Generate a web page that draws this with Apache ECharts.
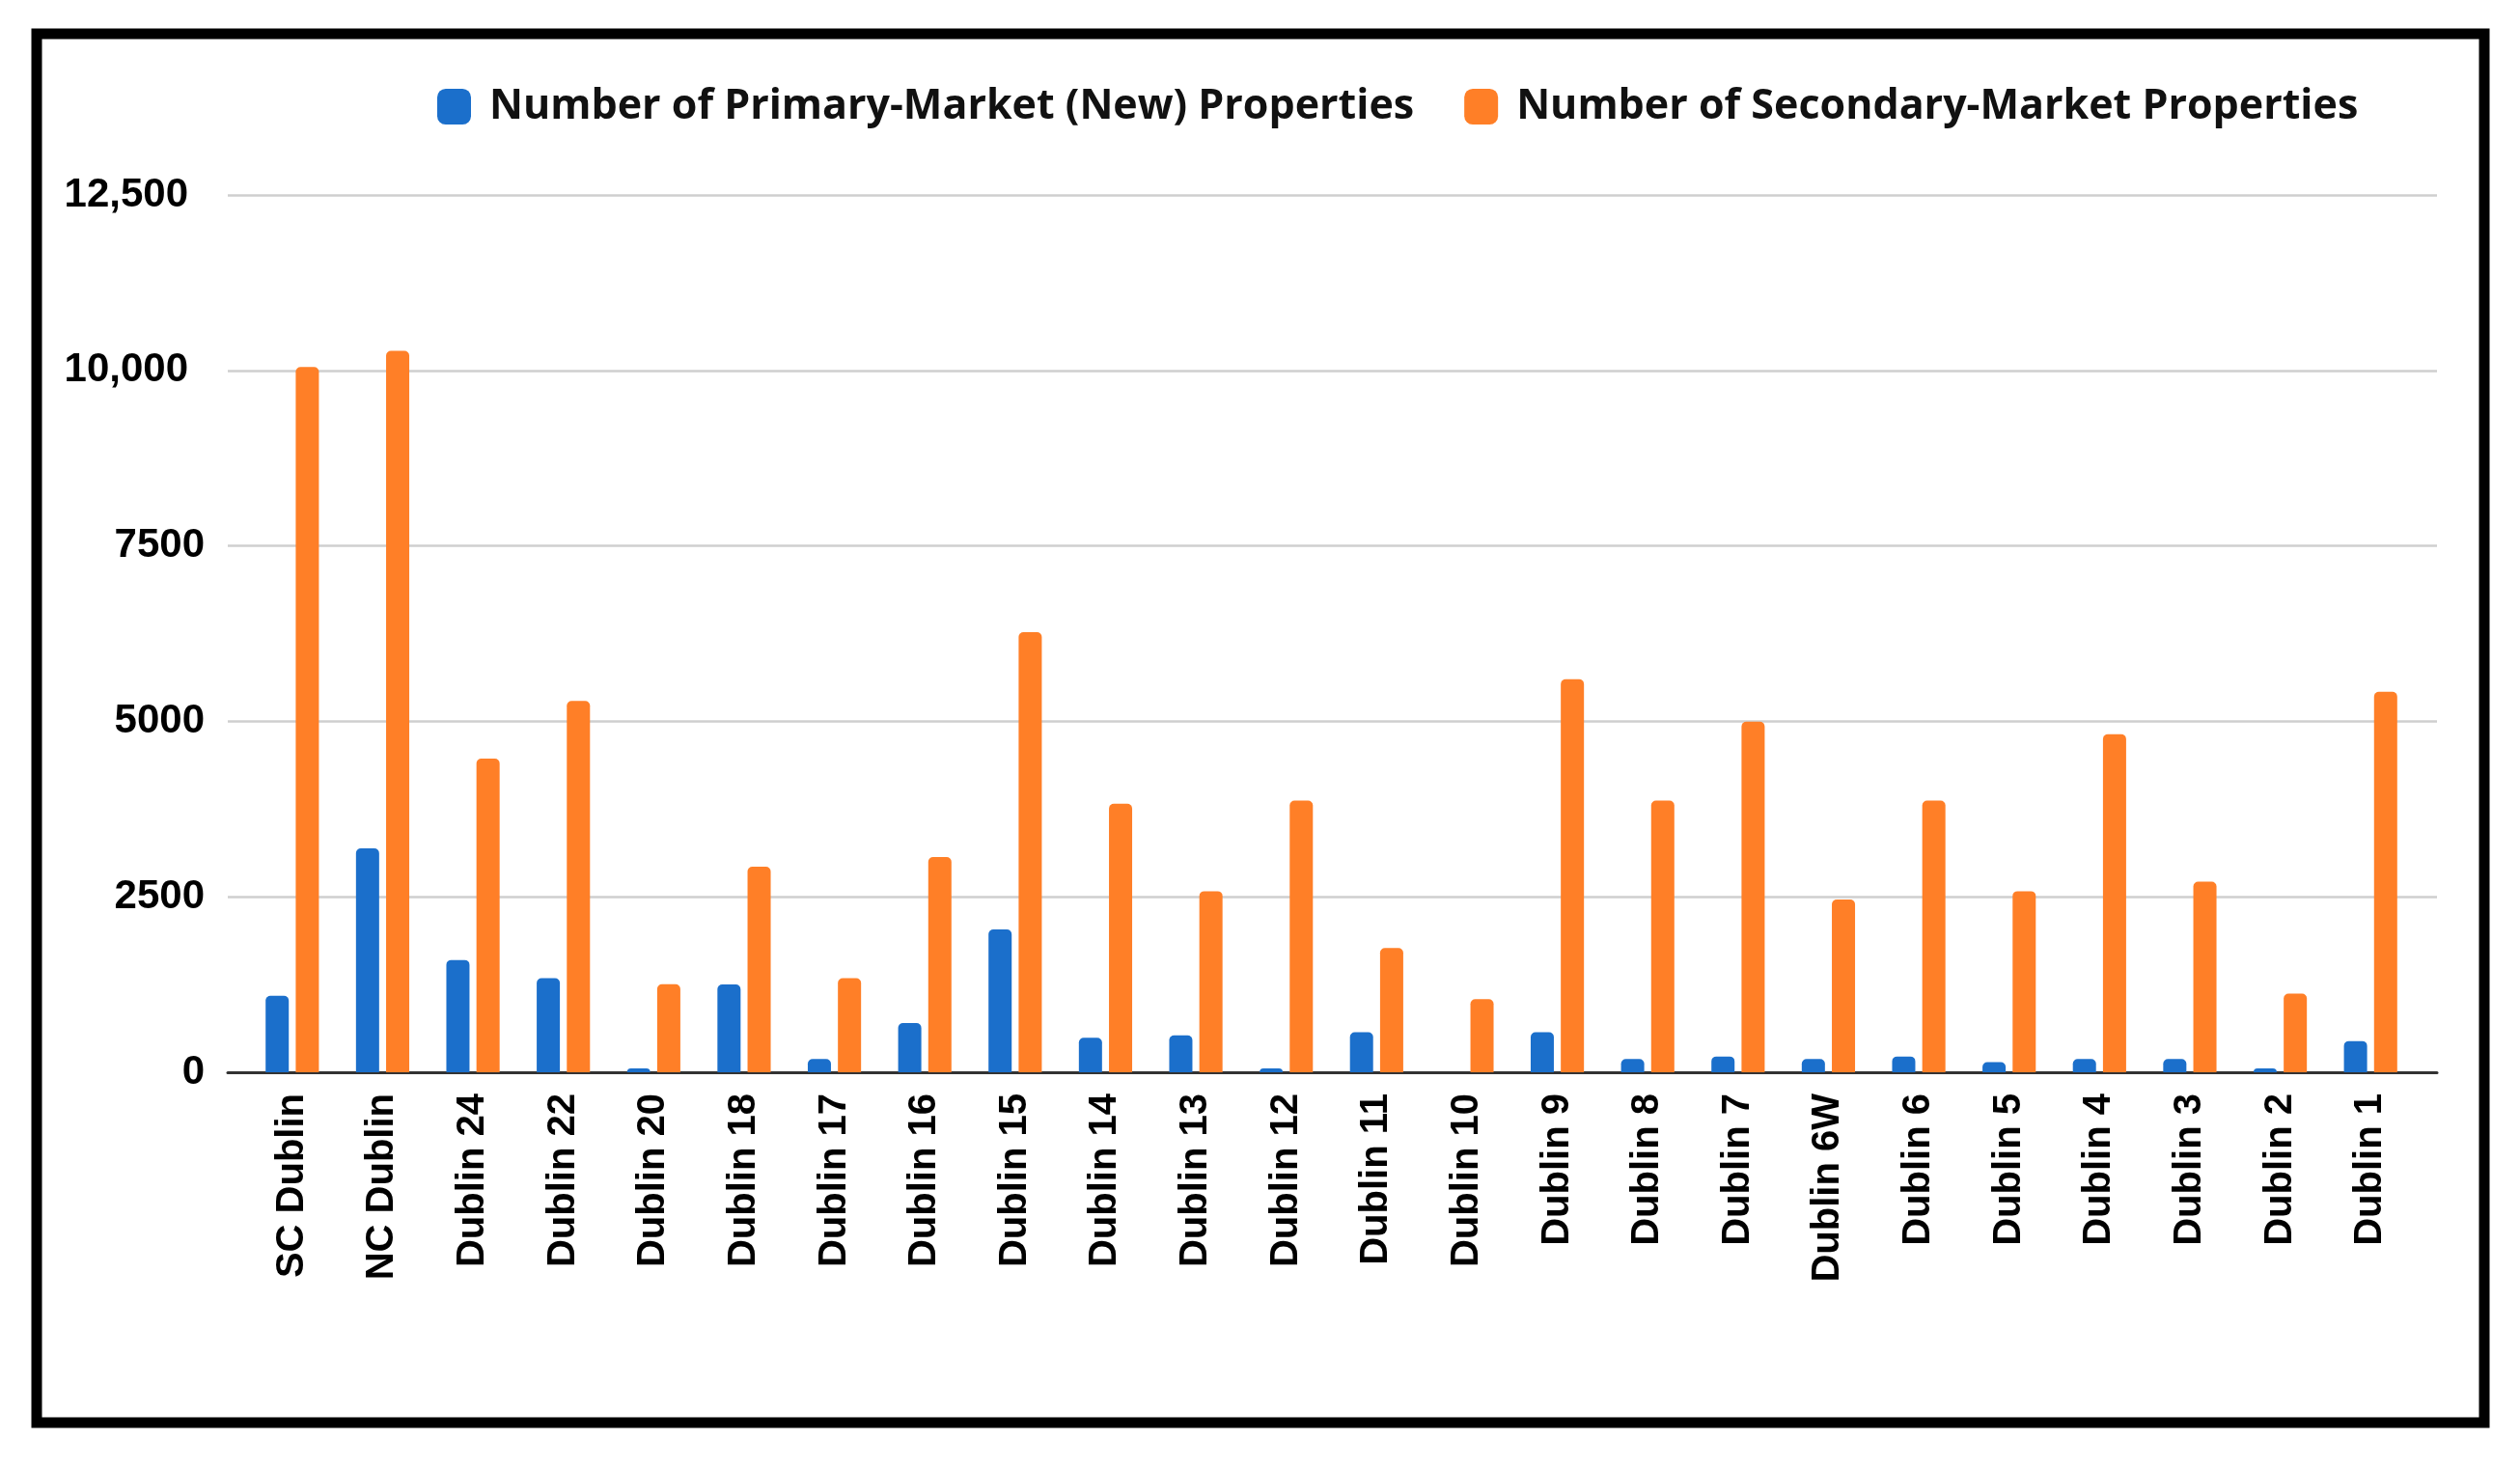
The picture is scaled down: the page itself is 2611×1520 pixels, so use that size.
<!DOCTYPE html>
<html>
<head>
<meta charset="utf-8">
<script src="https://cdn.jsdelivr.net/npm/echarts@6/dist/echarts.min.js"></script>
<style>
html,body{margin:0;padding:0;background:#fff;}
#chart{width:2611px;height:1520px;}
</style>
</head>
<body>
<div id="chart"></div>
<script>
const categories = ['SC Dublin','NC Dublin','Dublin 24','Dublin 22','Dublin 20','Dublin 18','Dublin 17','Dublin 16','Dublin 15','Dublin 14','Dublin 13','Dublin 12','Dublin 11','Dublin 10','Dublin 9','Dublin 8','Dublin 7','Dublin 6W','Dublin 6','Dublin 5','Dublin 4','Dublin 3','Dublin 2','Dublin 1'];
const primaryValues = [1090, 3190, 1600, 1340, 55, 1250, 190, 700, 2035, 490, 525, 55, 570, 0, 570, 190, 225, 190, 225, 145, 190, 190, 55, 445];
const secondaryValues = [10050, 10280, 4470, 5290, 1255, 2930, 1340, 3065, 6270, 3825, 2580, 3870, 1770, 1040, 5600, 3870, 4995, 2460, 3870, 2580, 4815, 2715, 1120, 5420];
const seriesNames = ['Number of Primary-Market (New) Properties','Number of Secondary-Market Properties'];
const yTicks = {min: 0, max: 12500, interval: 2500};
const yTickLabels = {0:'0', 2500:'2500', 5000:'5000', 7500:'7500', 10000:'10,000', 12500:'12,500'};

const chart = echarts.init(document.getElementById('chart'), null, {renderer:'canvas'});
const option = {
  backgroundColor: '#ffffff',
  animation: false,
  graphic: [{
    type: 'rect',
    shape: {x: 38, y: 35, width: 2536, height: 1439},
    style: {fill: 'none', stroke: '#000', lineWidth: 11},
    z: 100
  }],
  legend: {
    left: 448, top: 84,
    itemWidth: 35, itemHeight: 37, itemGap: 52,
    icon: 'roundRect',
    textStyle: {fontFamily: 'Open Sans', fontWeight: 700, fontSize: 43, color: '#111', padding: [0,0,0,14]},
    data: seriesNames
  },
  grid: [
    {left: 236, right: 86, top: 202, bottom: 409},
    {left: 256, right: 108, top: 202, bottom: 409}
  ],
  xAxis: [
    {gridIndex: 0, type: 'category', data: categories, show: true,
     axisLine: {show: true, lineStyle: {color: '#333', width: 3}},
     axisTick: {show: false}, axisLabel: {show: false}, splitLine: {show: false}},
    {gridIndex: 1, type: 'category', data: categories,
     axisLine: {show: false}, axisTick: {show: false},
     axisLabel: {interval: 0, rotate: 90, margin: 22, fontFamily: 'Liberation Sans', fontWeight: 'bold', fontSize: 40, color: '#000'}}
  ],
  yAxis: [
    {gridIndex: 0, type: 'value', min: yTicks.min, max: yTicks.max, interval: yTicks.interval,
     axisLine: {show: false}, axisTick: {show: false},
     splitLine: {lineStyle: {color: '#cfcfcf', width: 2.5}},
     axisLabel: {margin: 24, fontFamily: 'Liberation Sans', fontWeight: 'bold', fontSize: 42, color: '#000',
       formatter: function(v){ const t = yTickLabels[v] || String(v); return v >= 10000 ? '{w|' + t + '}' : t; },
       rich: {w: {fontFamily: 'Liberation Sans', fontWeight: 'bold', fontSize: 42, color: '#000', padding: [0, 17, 0, 0]}}}},
    {gridIndex: 1, type: 'value', min: yTicks.min, max: yTicks.max, interval: yTicks.interval, show: false,
     splitLine: {show: false}}
  ],
  series: [
    {name: seriesNames[0], type: 'bar', xAxisIndex: 1, yAxisIndex: 1, data: primaryValues,
     barWidth: 24, barGap: '30%', itemStyle: {color: '#1B6FCB', borderRadius: [5,5,0,0]}},
    {name: seriesNames[1], type: 'bar', xAxisIndex: 1, yAxisIndex: 1, data: secondaryValues,
     barWidth: 24, barGap: '30%', itemStyle: {color: '#FF7F27', borderRadius: [5,5,0,0]}}
  ]
};
chart.setOption(option);
</script>
</body>
</html>
